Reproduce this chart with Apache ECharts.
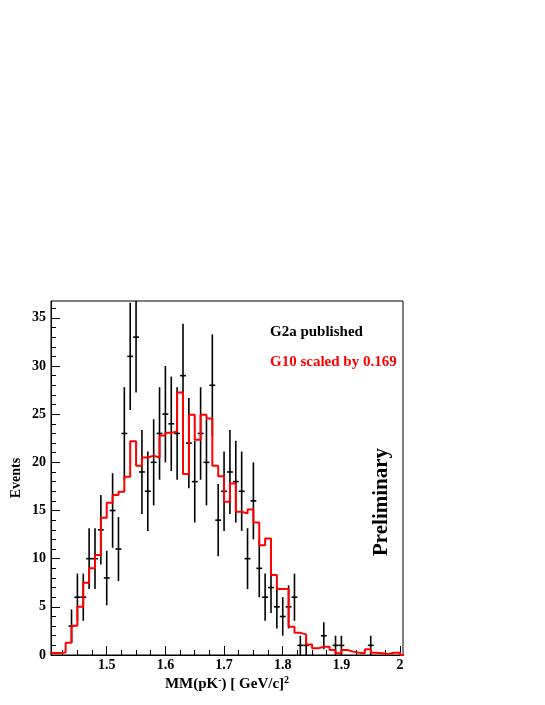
<!DOCTYPE html>
<html>
<head>
<meta charset="utf-8">
<script src="https://cdn.jsdelivr.net/npm/echarts@6/dist/echarts.min.js"></script>
<style>
  html, body { margin: 0; padding: 0; background: #fff; }
  #chart { width: 545px; height: 705px; }
</style>
</head>
<body>
<div id="chart"></div>
<script>
// G2a published points (bin centres), events and error bars
var g2aX = [1.44, 1.45, 1.46, 1.47, 1.48, 1.49, 1.50, 1.51, 1.52, 1.53,
            1.54, 1.55, 1.56, 1.57, 1.58, 1.59, 1.60, 1.61, 1.62, 1.63,
            1.64, 1.65, 1.66, 1.67, 1.68, 1.69, 1.70, 1.71, 1.72, 1.73,
            1.74, 1.75, 1.76, 1.77, 1.78, 1.79, 1.80, 1.81, 1.82, 1.83,
            1.84, 1.87, 1.89, 1.90, 1.95];
var g2aY = [3, 6, 6, 10, 10, 13, 8, 15, 11, 23,
            31, 33, 19, 17, 20, 23, 25, 24, 23, 29,
            22, 18, 23, 20, 28, 14, 17, 19, 18, 17,
            10, 16, 9, 6, 7, 5, 4, 5, 6, 1,
            1, 2, 1, 1, 1];
var g2aErr = [1.73, 2.45, 2.45, 3.16, 3.16, 3.61, 2.83, 3.87, 3.32, 4.80,
              5.57, 5.74, 4.36, 4.12, 4.47, 4.80, 5.00, 4.90, 4.80, 5.39,
              4.69, 4.24, 4.80, 4.47, 5.29, 3.74, 4.12, 4.36, 4.24, 4.12,
              3.16, 4.00, 3.00, 2.45, 2.65, 2.24, 2.00, 2.24, 2.45, 1.00,
              1.00, 1.41, 1.00, 1.00, 1.00];

// G10 histogram (scaled by 0.169), bin low edges, width 0.01
var g10Edges = [1.40, 1.41, 1.42, 1.43, 1.44, 1.45, 1.46, 1.47, 1.48, 1.49,
                1.50, 1.51, 1.52, 1.53, 1.54, 1.55, 1.56, 1.57, 1.58, 1.59,
                1.60, 1.61, 1.62, 1.63, 1.64, 1.65, 1.66, 1.67, 1.68, 1.69,
                1.70, 1.71, 1.72, 1.73, 1.74, 1.75, 1.76, 1.77, 1.78, 1.79,
                1.80, 1.81, 1.82, 1.83, 1.84, 1.85, 1.86, 1.87, 1.88, 1.89,
                1.90, 1.91, 1.92, 1.93, 1.94, 1.95, 1.96, 1.97, 1.98, 1.99,
                2.00];
var g10Val = [0.2, 0.2, 0.25, 1.28, 3.04, 5.0, 7.5, 9.0, 10.37, 14.25,
              15.8, 16.6, 16.95, 18.5, 22.2, 19.65, 20.5, 20.7, 20.5, 22.8,
              23.06, 23.2, 27.25, 18.8, 24.95, 22.35, 24.95, 24.55, 19.64, 18.55,
              15.9, 17.8, 14.87, 14.7, 15.1, 13.76, 11.4, 12.1, 8.3, 6.85,
              6.85, 2.94, 2.3, 2.14, 1.1, 0.69, 0.86, 0.86, 0.52, 0.17,
              0.52, 0.35, 0.24, 0.17, 0.6, 0.24, 0.17, 0.1, 0.24, 0.24,
              0];
var BIN_W = 0.01;

// axis ticks
var xMajor = [1.5, 1.6, 1.7, 1.8, 1.9, 2];
var xMinor = [1.425, 1.45, 1.475, 1.525, 1.55, 1.575, 1.625, 1.65, 1.675,
              1.725, 1.75, 1.775, 1.825, 1.85, 1.875, 1.925, 1.95, 1.975];
var yMajor = [0, 5, 10, 15, 20, 25, 30, 35];
var yMinor = [1, 2, 3, 4, 6, 7, 8, 9, 11, 12, 13, 14, 16, 17, 18, 19,
              21, 22, 23, 24, 26, 27, 28, 29, 31, 32, 33, 34, 36];

var X_MIN = 1.405, X_MAX = 2.005, Y_MAX = 36.75;
var FONT = '"Liberation Serif", "DejaVu Serif", serif';

(function() {
    var chart = echarts.init(document.getElementById('chart'), null, {renderer: 'canvas'});

    // histogram outline as step line (value held from low edge to next edge)
    var histData = [];
    for (var i = 0; i < g10Edges.length; i++) {
        histData.push([g10Edges[i], g10Val[i]]);
    }
    histData.push([g10Edges[g10Edges.length - 1] + BIN_W, g10Val[g10Val.length - 1]]);

    var pts = [];
    for (var j = 0; j < g2aX.length; j++) {
        pts.push([g2aX[j], g2aY[j], g2aErr[j]]);
    }

    var tickLabel = {fontFamily: FONT, fontWeight: 'bold', fontSize: 14, color: '#000'};

    var option = {
        backgroundColor: '#fff',
        animation: false,
        grid: {
            left: 51, top: 301, width: 352, height: 354,
            show: true, borderColor: '#000', borderWidth: 1, backgroundColor: 'transparent'
        },
        xAxis: [{
            type: 'value', min: X_MIN, max: X_MAX, position: 'bottom',
            axisLine: {show: true, onZero: false, lineStyle: {color: '#000', width: 1}},
            axisTick: {show: true, inside: true, length: 9, customValues: xMajor,
                       lineStyle: {color: '#000', width: 1}},
            axisLabel: Object.assign({customValues: xMajor, margin: 3,
                formatter: function(v) { return String(Math.round(v * 10) / 10); }}, tickLabel),
            splitLine: {show: false}
        }, {
            type: 'value', min: X_MIN, max: X_MAX, position: 'bottom',
            axisLine: {show: false, onZero: false},
            axisTick: {show: true, inside: true, length: 5, customValues: xMinor,
                       lineStyle: {color: '#000', width: 1}},
            axisLabel: {show: false},
            splitLine: {show: false}
        }],
        yAxis: [{
            type: 'value', min: 0, max: Y_MAX, position: 'left',
            axisLine: {show: true, onZero: false, lineStyle: {color: '#000', width: 1}},
            axisTick: {show: true, inside: true, length: 9, customValues: yMajor,
                       lineStyle: {color: '#000', width: 1}},
            axisLabel: Object.assign({customValues: yMajor, margin: 5}, tickLabel),
            splitLine: {show: false}
        }, {
            type: 'value', min: 0, max: Y_MAX, position: 'left',
            axisLine: {show: false, onZero: false},
            axisTick: {show: true, inside: true, length: 5, customValues: yMinor,
                       lineStyle: {color: '#000', width: 1}},
            axisLabel: {show: false},
            splitLine: {show: false}
        }],
        series: [{
            name: 'G10 scaled by 0.169',
            type: 'line',
            step: 'end',
            xAxisIndex: 0, yAxisIndex: 0,
            data: histData,
            symbol: 'none',
            clip: true,
            lineStyle: {color: '#ff0000', width: 2}
        }, {
            name: 'G2a published',
            type: 'custom',
            xAxisIndex: 0, yAxisIndex: 0,
            clip: true,
            data: pts,
            renderItem: function(params, api) {
                var x = api.value(0), y = api.value(1), e = api.value(2);
                var c = api.coord([x, y]);
                var hi = api.coord([x, Math.min(y + e, Y_MAX)]);
                var lo = api.coord([x, Math.max(y - e, 0)]);
                var l = api.coord([x - BIN_W / 2, y]);
                var r = api.coord([x + BIN_W / 2, y]);
                var st = {stroke: '#000', lineWidth: 1.6};
                return {
                    type: 'group',
                    children: [
                        {type: 'line', shape: {x1: c[0], y1: hi[1], x2: c[0], y2: lo[1]}, style: st},
                        {type: 'line', shape: {x1: l[0], y1: c[1], x2: r[0], y2: c[1]}, style: st}
                    ]
                };
            }
        }],
        graphic: [{
            type: 'text', left: 270, top: 325,
            style: {text: 'G2a published', fill: '#000', font: 'bold 15px ' + FONT}
        }, {
            type: 'text', left: 270, top: 355,
            style: {text: 'G10 scaled by 0.169', fill: '#ff0000', font: 'bold 15px ' + FONT}
        }, {
            type: 'text', x: 371, y: 502, rotation: Math.PI / 2,
            style: {text: 'Preliminary', fill: '#000', font: 'bold 21px ' + FONT,
                    align: 'center', verticalAlign: 'top'}
        }, {
            type: 'text', x: 9, y: 478, rotation: Math.PI / 2,
            style: {text: 'Events', fill: '#000', font: 'bold 14px ' + FONT,
                    align: 'center', verticalAlign: 'top'}
        }, {
            type: 'text', x: 227, y: 675,
            style: {
                text: '{a|MM(pK}{s|-}{a|) [ GeV/c]}{s|2}',
                align: 'center', verticalAlign: 'top',
                rich: {
                    a: {fontFamily: FONT, fontWeight: 'bold', fontSize: 15, fill: '#000', lineHeight: 17, verticalAlign: 'bottom'},
                    s: {fontFamily: FONT, fontWeight: 'bold', fontSize: 10, fill: '#000', lineHeight: 17, verticalAlign: 'top'}
                }
            }
        }]
    };

    chart.setOption(option);
})();
</script>
</body>
</html>
